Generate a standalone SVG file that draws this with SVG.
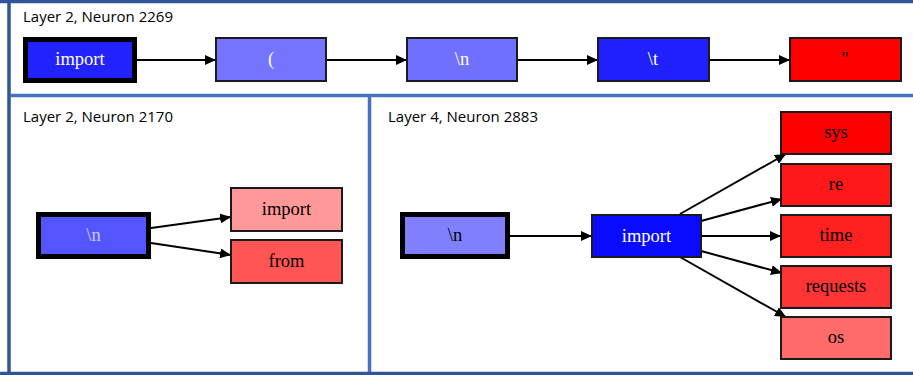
<svg xmlns="http://www.w3.org/2000/svg" width="913" height="375" viewBox="0 0 913 375">
<style>
.title{font-family:"Open Sans","Liberation Sans",sans-serif;font-size:15px;fill:#000}
.box{stroke:#1a1a1a;stroke-width:2}
.bold{stroke:#000;stroke-width:5}
.lbl{font-family:"Liberation Serif","DejaVu Serif",serif;font-size:18.5px;text-anchor:middle}
.w{fill:#fff}
.k{fill:#000}
.edge{stroke:#000;stroke-width:2;fill:none}
.frame{stroke:#2F5597;stroke-width:3.5}
.div{stroke:#4472C4;stroke-width:3.5}
</style>
<defs>
<marker id="arr" markerUnits="userSpaceOnUse" markerWidth="12" markerHeight="10" refX="11" refY="5" orient="auto">
<path d="M0,0 L11,5 L0,10 z" fill="#000"/>
</marker>
</defs>
<rect x="0" y="0" width="913" height="375" fill="#fff"/>
<g id="frame">
<line class="frame" x1="0" y1="1.5" x2="913" y2="1.5"/>
<line class="frame" x1="9" y1="0" x2="9" y2="375"/>
<line class="frame" x1="0" y1="373.5" x2="913" y2="373.5"/>
<line class="div" x1="10" y1="95.5" x2="913" y2="95.5"/>
<line class="div" x1="369.5" y1="95" x2="369.5" y2="372"/>
</g>
<g id="titles">
<text class="title" x="23" y="22">Layer 2, Neuron 2269</text>
<text class="title" x="23" y="122">Layer 2, Neuron 2170</text>
<text class="title" x="388" y="122">Layer 4, Neuron 2883</text>
</g>
<g id="connectors">
<line class="edge" x1="137" y1="60" x2="216" y2="60" marker-end="url(#arr)"/>
<line class="edge" x1="326" y1="60" x2="407" y2="60" marker-end="url(#arr)"/>
<line class="edge" x1="517" y1="60" x2="598" y2="60" marker-end="url(#arr)"/>
<line class="edge" x1="709" y1="60" x2="790" y2="60" marker-end="url(#arr)"/>
<line class="edge" x1="151" y1="228" x2="231" y2="217" marker-end="url(#arr)"/>
<line class="edge" x1="151" y1="243" x2="231" y2="255" marker-end="url(#arr)"/>
<line class="edge" x1="510" y1="236" x2="592" y2="236" marker-end="url(#arr)"/>
<line class="edge" x1="680" y1="214" x2="786" y2="154" marker-end="url(#arr)"/>
<line class="edge" x1="701" y1="221" x2="782" y2="199" marker-end="url(#arr)"/>
<line class="edge" x1="701" y1="236" x2="781" y2="236" marker-end="url(#arr)"/>
<line class="edge" x1="701" y1="251" x2="782" y2="273" marker-end="url(#arr)"/>
<line class="edge" x1="680" y1="257" x2="786" y2="317" marker-end="url(#arr)"/>
</g>
<g id="t_import">
<rect class="bold" x="25.5" y="39.5" width="109" height="41" fill="#2222FF"/>
<text class="lbl w" x="80" y="65">import</text>
</g>
<g id="t_paren">
<rect class="box" x="216" y="38" width="110" height="43" fill="#7474FF"/>
<text class="lbl w" x="271" y="65">(</text>
</g>
<g id="t_newline">
<rect class="box" x="407" y="38" width="110" height="43" fill="#7070FF"/>
<text class="lbl w" x="462" y="65">\n</text>
</g>
<g id="t_tab">
<rect class="box" x="598" y="38" width="111" height="43" fill="#2020FF"/>
<text class="lbl w" x="653" y="65">\t</text>
</g>
<g id="t_quote">
<rect class="box" x="790" y="38" width="111" height="43" fill="#FF0000"/>
<text class="lbl k" x="845" y="65">"</text>
</g>
<g id="l_newline">
<rect class="bold" x="38.5" y="214.5" width="110" height="42" fill="#5555FF"/>
<text class="lbl" x="93.5" y="241" fill="#CCCCFF">\n</text>
</g>
<g id="l_import">
<rect class="box" x="231" y="188" width="111" height="43" fill="#FF9999"/>
<text class="lbl k" x="286.5" y="215">import</text>
</g>
<g id="l_from">
<rect class="box" x="231" y="240" width="111" height="43" fill="#FF5555"/>
<text class="lbl k" x="286.5" y="267">from</text>
</g>
<g id="r_newline">
<rect class="bold" x="402.5" y="214.5" width="105" height="42" fill="#8080FF"/>
<text class="lbl k" x="455" y="241">\n</text>
</g>
<g id="r_import">
<rect class="box" x="592" y="215" width="109" height="42" fill="#0A0AFF"/>
<text class="lbl w" x="646.5" y="242">import</text>
</g>
<g id="r_sys">
<rect class="box" x="781" y="112" width="110" height="42" fill="#FF0000"/>
<text class="lbl k" x="836" y="138">sys</text>
</g>
<g id="r_re">
<rect class="box" x="781" y="164" width="110" height="42" fill="#FF1818"/>
<text class="lbl k" x="836" y="190">re</text>
</g>
<g id="r_time">
<rect class="box" x="781" y="215" width="110" height="42" fill="#FF2020"/>
<text class="lbl k" x="836" y="241">time</text>
</g>
<g id="r_requests">
<rect class="box" x="781" y="266" width="110" height="42" fill="#FF3535"/>
<text class="lbl k" x="836" y="292">requests</text>
</g>
<g id="r_os">
<rect class="box" x="781" y="317" width="110" height="42" fill="#FF6A6A"/>
<text class="lbl k" x="836" y="343">os</text>
</g>
</svg>
